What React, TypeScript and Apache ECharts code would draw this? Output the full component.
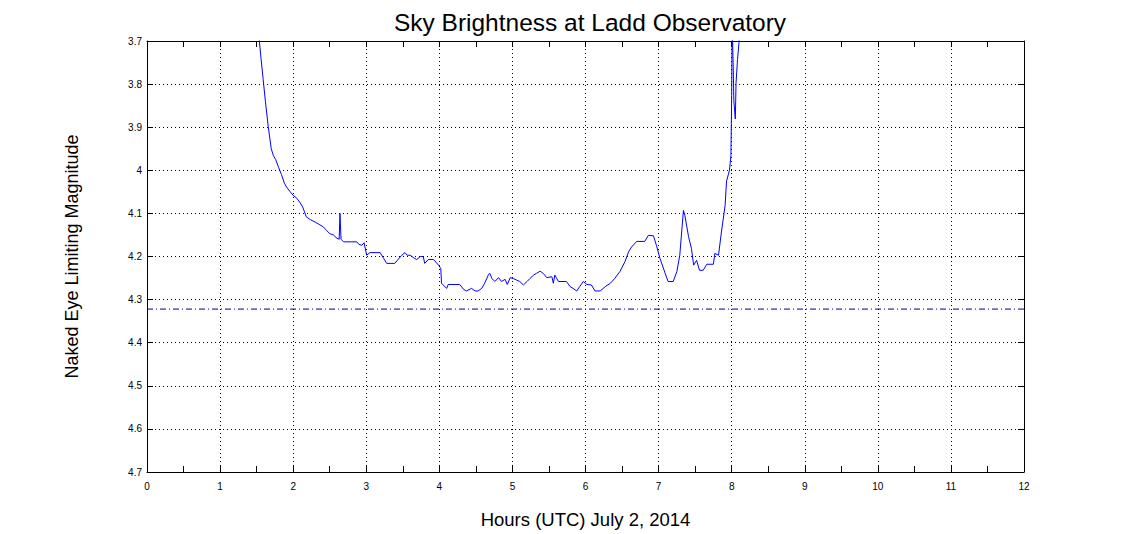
import React, { useEffect, useRef } from "react";
import * as echarts from "echarts";

const hours = [
  1.50, 1.537, 1.56, 1.59, 1.62, 1.66, 1.70, 1.73, 1.76, 1.80, 1.84, 1.88, 1.91, 1.96, 2.00, 2.05, 2.09, 2.13, 2.18, 2.24,
  2.30, 2.35, 2.41, 2.46, 2.50, 2.55, 2.60, 2.63, 2.64, 2.655, 2.69, 2.80, 2.87, 2.90, 2.94, 2.97, 3.006, 3.05, 3.19, 3.24,
  3.28, 3.39, 3.44, 3.48, 3.53, 3.56, 3.60, 3.65, 3.69, 3.74, 3.78, 3.80, 3.85, 3.92, 3.99, 4.02, 4.03, 4.10, 4.12, 4.28,
  4.33, 4.37, 4.44, 4.49, 4.53, 4.58, 4.62, 4.67, 4.69, 4.72, 4.76, 4.81, 4.85, 4.90, 4.93, 4.97, 5.01, 5.10, 5.15, 5.20,
  5.24, 5.29, 5.33, 5.38, 5.42, 5.47, 5.54, 5.56, 5.58, 5.63, 5.74, 5.79, 5.83, 5.88, 5.92, 5.97, 6.02, 6.08, 6.13, 6.20,
  6.27, 6.34, 6.40, 6.47, 6.54, 6.59, 6.63, 6.70, 6.81, 6.86, 6.93, 6.97, 7.02, 7.09, 7.13, 7.20, 7.25, 7.29, 7.34, 7.36,
  7.41, 7.45, 7.48, 7.52, 7.56, 7.61, 7.66, 7.75, 7.77, 7.82, 7.86, 7.91, 7.93, 7.97, 7.99, 8.00, 8.005, 8.01, 8.02, 8.03,
  8.05, 8.06, 8.08, 8.10, 8.13,
];

const magnitude = [
  3.62, 3.70, 3.74, 3.79, 3.84, 3.90, 3.95, 3.966, 3.975, 3.993, 4.01, 4.03, 4.039, 4.05, 4.058, 4.065, 4.074, 4.085, 4.108, 4.115,
  4.12, 4.125, 4.131, 4.14, 4.147, 4.15, 4.158, 4.16, 4.10, 4.16, 4.166, 4.166, 4.166, 4.172, 4.174, 4.168, 4.197, 4.191, 4.191, 4.205,
  4.216, 4.216, 4.206, 4.198, 4.191, 4.197, 4.197, 4.203, 4.207, 4.20, 4.20, 4.216, 4.207, 4.207, 4.22, 4.228, 4.262, 4.274, 4.265, 4.265,
  4.276, 4.28, 4.274, 4.28, 4.28, 4.274, 4.262, 4.243, 4.239, 4.251, 4.258, 4.249, 4.258, 4.253, 4.265, 4.249, 4.251, 4.258, 4.266, 4.258,
  4.251, 4.243, 4.239, 4.234, 4.239, 4.249, 4.247, 4.262, 4.243, 4.258, 4.258, 4.27, 4.274, 4.28, 4.27, 4.258, 4.265, 4.266, 4.28, 4.28,
  4.27, 4.262, 4.251, 4.235, 4.212, 4.189, 4.178, 4.165, 4.165, 4.151, 4.152, 4.174, 4.205, 4.239, 4.258, 4.258, 4.235, 4.197, 4.093, 4.105,
  4.154, 4.182, 4.22, 4.209, 4.232, 4.232, 4.218, 4.218, 4.193, 4.197, 4.143, 4.082, 4.025, 4.0, 3.966, 3.827, 3.70, 3.68, 3.75, 3.839,
  3.881, 3.797, 3.743, 3.704, 3.62,
];

const thresholdMagnitude = 4.322;
const xRange = [0, 12];
const yRange = [3.7, 4.7];

const titleText = "Sky Brightness at Ladd Observatory";
const xAxisName = "Hours (UTC) July 2, 2014";
const yAxisName = "Naked Eye Limiting Magnitude";

const FONT = "'Liberation Sans', Arial, Helvetica, sans-serif";

export default function App() {
  const ref = useRef<HTMLDivElement>(null);

  useEffect(() => {
    document.body.style.margin = "0";
    if (!ref.current) return;
    const chart = echarts.init(ref.current, undefined, { renderer: "svg", width: 1131, height: 534 });

    const lineData = hours.map((h, i) => [h, magnitude[i]]);
    const thresholdData = [
      [xRange[0], thresholdMagnitude],
      [xRange[1], thresholdMagnitude],
    ];

    const dotted = { type: [1, 3] as number[], color: "#000", width: 1 };

    chart.setOption({
      animation: false,
      backgroundColor: "#fff",
      textStyle: { fontFamily: FONT },
      title: {
        text: titleText,
        left: 585,
        textAlign: "center",
        top: 5,
        textStyle: { fontFamily: FONT, fontSize: 24.5, fontWeight: "normal", color: "#000" },
      },
      grid: { left: 147, top: 41, width: 877, height: 433, containLabel: false },
      xAxis: [
        {
          type: "value",
          min: xRange[0],
          max: xRange[1],
          interval: 1,
          position: "bottom",
          name: xAxisName,
          nameLocation: "middle",
          nameGap: 38,
          nameTextStyle: { fontFamily: FONT, fontSize: 18.5, color: "#000" },
          axisLine: { show: true, onZero: false, lineStyle: { color: "#000", width: 1 } },
          axisTick: { show: true, inside: true, length: 6, lineStyle: { color: "#000" } },
          minorTick: { show: true, splitNumber: 2, length: 6, lineStyle: { color: "#000" } },
          axisLabel: { color: "#000", fontSize: 10, fontFamily: FONT, margin: 9 },
          splitLine: { show: true, lineStyle: dotted },
        },
        {
          type: "value",
          min: xRange[0],
          max: xRange[1],
          interval: 1,
          position: "top",
          axisLine: { show: true, onZero: false, lineStyle: { color: "#000", width: 1 } },
          axisTick: { show: true, inside: true, length: 6, lineStyle: { color: "#000" } },
          minorTick: { show: true, splitNumber: 2, length: 6, lineStyle: { color: "#000" } },
          axisLabel: { show: false },
          splitLine: { show: false },
        },
      ],
      yAxis: [
        {
          type: "value",
          inverse: true,
          min: yRange[0],
          max: yRange[1],
          interval: 0.1,
          position: "left",
          name: yAxisName,
          nameLocation: "middle",
          nameGap: 66,
          nameTextStyle: { fontFamily: FONT, fontSize: 18, color: "#000" },
          axisLine: { show: true, onZero: false, lineStyle: { color: "#000", width: 1 } },
          axisTick: { show: true, inside: true, length: 6, lineStyle: { color: "#000" } },
          axisLabel: {
            color: "#000",
            fontSize: 10,
            fontFamily: FONT,
            margin: 5,
            formatter: (v: number) => String(Number(v.toFixed(1))),
          },
          splitLine: { show: true, lineStyle: dotted },
        },
        {
          type: "value",
          inverse: true,
          min: yRange[0],
          max: yRange[1],
          interval: 0.1,
          position: "right",
          axisLine: { show: true, onZero: false, lineStyle: { color: "#000", width: 1 } },
          axisTick: { show: true, inside: true, length: 6, lineStyle: { color: "#000" } },
          axisLabel: { show: false },
          splitLine: { show: false },
        },
      ],
      series: [
        {
          type: "line",
          xAxisIndex: 0,
          yAxisIndex: 0,
          data: thresholdData,
          showSymbol: false,
          symbol: "none",
          lineStyle: { color: "#000080", width: 1, type: [6, 3, 1, 3] },
          silent: true,
          z: 2,
        },
        {
          type: "line",
          xAxisIndex: 0,
          yAxisIndex: 0,
          data: lineData,
          showSymbol: false,
          symbol: "none",
          clip: true,
          lineStyle: { color: "#0000FF", width: 1 },
          silent: true,
          z: 3,
        },
      ],
    });

    return () => {
      chart.dispose();
    };
  }, []);

  return <div ref={ref} style={{ width: 1131, height: 534, position: "absolute", left: 0, top: 0 }} />;
}
